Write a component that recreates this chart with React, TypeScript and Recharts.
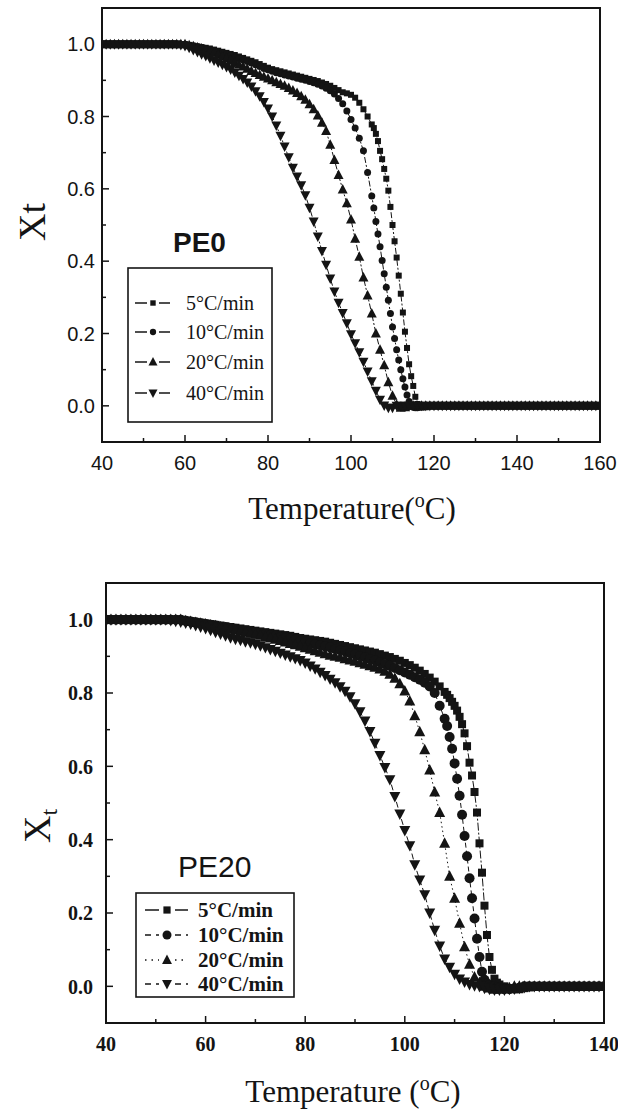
import React from 'react';
import { LineChart, Line, XAxis, YAxis, ReferenceArea, Legend } from 'recharts';

// ---------------- data: PE0 (top panel) ----------------
// temperatures (°C); half-degree readings only where the slow-rate curves fall steeply
const TOP_T = [
  40, 41, 42, 43, 44, 45, 46, 47, 48, 49,
  50, 51, 52, 53, 54, 55, 56, 57, 58, 59,
  60, 61, 62, 63, 64, 65, 66, 67, 68, 69,
  70, 71, 72, 73, 74, 75, 76, 77, 78, 79,
  80, 81, 82, 83, 84, 85, 86, 87, 88, 89,
  90, 91, 92, 93, 94, 95, 96, 97, 98, 99,
  100, 101, 102, 103, 104, 105, 105.5, 106, 106.5, 107, 107.5, 108, 108.5, 109, 109.5,
  110, 110.5, 111, 111.5, 112, 112.5, 113, 113.5, 114, 114.5, 115, 115.5, 116, 116.5, 117, 118, 119,
  120, 121, 122, 123, 124, 125, 126, 127, 128, 129,
  130, 131, 132, 133, 134, 135, 136, 137, 138, 139,
  140, 141, 142, 143, 144, 145, 146, 147, 148, 149,
  150, 151, 152, 153, 154, 155, 156, 157, 158, 159,
  160,
];
const TOP_5 = [
  1, 1, 1, 1, 1, 1, 1, 1, 1, 1,
  1, 1, 1, 1, 1, 1, 1, 1, 1, 1,
  1, 0.998, 0.996, 0.994, 0.992, 0.99, 0.988, 0.985, 0.982, 0.979,
  0.976, 0.973, 0.97, 0.966, 0.962, 0.958, 0.954, 0.95, 0.945, 0.94,
  0.935, 0.931, 0.928, 0.925, 0.922, 0.919, 0.916, 0.913, 0.91, 0.907,
  0.904, 0.901, 0.898, 0.894, 0.89, 0.885, 0.879, 0.873, 0.867, 0.864,
  0.86, 0.852, 0.838, 0.82, 0.8, 0.778, 0.768, 0.752, 0.732, 0.705, 0.682, 0.655, 0.628, 0.595, 0.55,
  0.5, 0.455, 0.41, 0.36, 0.31, 0.258, 0.205, 0.16, 0.115, 0.082, 0.055, 0.025, 0.005, -0.002, -0.005, -0.004, 0,
  0, 0, 0, 0, 0, 0, 0, 0, 0, 0,
  0, 0, 0, 0, 0, 0, 0, 0, 0, 0,
  0, 0, 0, 0, 0, 0, 0, 0, 0, 0,
  0, 0, 0, 0, 0, 0, 0, 0, 0, 0,
  0,
];
const TOP_10 = [
  1, 1, 1, 1, 1, 1, 1, 1, 1, 1,
  1, 1, 1, 1, 1, 1, 1, 1, 1, 1,
  1, 0.997, 0.995, 0.993, 0.99, 0.988, 0.985, 0.982, 0.979, 0.976,
  0.972, 0.968, 0.964, 0.96, 0.956, 0.952, 0.948, 0.943, 0.938, 0.933,
  0.929, 0.925, 0.921, 0.918, 0.915, 0.912, 0.909, 0.906, 0.903, 0.9,
  0.897, 0.893, 0.889, 0.884, 0.878, 0.871, 0.862, 0.85, 0.835, 0.815,
  0.792, 0.768, 0.74, 0.705, 0.645, 0.58, 0.547, 0.51, 0.475, 0.44, 0.402, 0.365, 0.328, 0.292, 0.255,
  0.218, 0.186, 0.155, 0.127, 0.1, 0.075, 0.052, 0.03, 0.012, 0.002, -0.004, -0.005, -0.005, -0.003, 0, 0, 0,
  0, 0, 0, 0, 0, 0, 0, 0, 0, 0,
  0, 0, 0, 0, 0, 0, 0, 0, 0, 0,
  0, 0, 0, 0, 0, 0, 0, 0, 0, 0,
  0, 0, 0, 0, 0, 0, 0, 0, 0, 0,
  0,
];
const TOP_20 = [
  1, 1, 1, 1, 1, 1, 1, 1, 1, 1,
  1, 1, 1, 1, 1, 1, 1, 1, 1, 1,
  1, 0.997, 0.994, 0.991, 0.988, 0.984, 0.98, 0.976, 0.971, 0.966,
  0.961, 0.956, 0.95, 0.944, 0.938, 0.932, 0.926, 0.92, 0.915, 0.91,
  0.905, 0.9, 0.895, 0.89, 0.885, 0.879, 0.872, 0.865, 0.856, 0.846,
  0.834, 0.82, 0.803, 0.783, 0.76, 0.722, 0.68, 0.638, 0.598, 0.56,
  0.515, 0.462, 0.412, 0.355, 0.305, 0.255, null, 0.2, null, 0.155, null, 0.112, null, 0.065, null,
  0.028, null, 0.003, null, -0.005, null, -0.004, null, 0, null, 0, null, 0, null, 0, 0, 0,
  0, 0, 0, 0, 0, 0, 0, 0, 0, 0,
  0, 0, 0, 0, 0, 0, 0, 0, 0, 0,
  0, 0, 0, 0, 0, 0, 0, 0, 0, 0,
  0, 0, 0, 0, 0, 0, 0, 0, 0, 0,
  0,
];
const TOP_40 = [
  1, 1, 1, 1, 1, 1, 1, 1, 1, 1,
  1, 1, 1, 1, 1, 1, 1, 1, 1, 0.998,
  0.995, 0.99, 0.984, 0.978, 0.972, 0.967, 0.961, 0.955, 0.949, 0.943,
  0.937, 0.93, 0.922, 0.913, 0.904, 0.894, 0.883, 0.87, 0.856, 0.84,
  0.822, 0.8, 0.775, 0.747, 0.717, 0.687, 0.658, 0.634, 0.61, 0.582,
  0.548, 0.51, 0.468, 0.428, 0.39, 0.352, 0.316, 0.285, 0.257, 0.228,
  0.198, 0.173, 0.148, 0.122, 0.095, 0.068, null, 0.042, null, 0.017, null, 0.001, null, -0.005, null,
  -0.005, null, 0, null, 0, null, 0, null, 0, null, 0, null, 0, null, 0, 0, 0,
  0, 0, 0, 0, 0, 0, 0, 0, 0, 0,
  0, 0, 0, 0, 0, 0, 0, 0, 0, 0,
  0, 0, 0, 0, 0, 0, 0, 0, 0, 0,
  0, 0, 0, 0, 0, 0, 0, 0, 0, 0,
  0,
];

// ---------------- data: PE20 (bottom panel) ----------------
const BOT_T = [
  40, 41, 42, 43, 44, 45, 46, 47, 48, 49,
  50, 51, 52, 53, 54, 55, 56, 57, 58, 59,
  60, 61, 62, 63, 64, 65, 66, 67, 68, 69,
  70, 71, 72, 73, 74, 75, 76, 77, 78, 79,
  80, 81, 82, 83, 84, 85, 86, 87, 88, 89,
  90, 91, 92, 93, 94, 95, 96, 97, 98, 99,
  100, 101, 102, 103, 104, 105, 106, 107, 108, 108.5, 109, 109.5,
  110, 110.5, 111, 111.5, 112, 112.5, 113, 113.5, 114, 114.5, 115, 115.5, 116, 116.5, 117, 117.5, 118, 118.5, 119,
  120, 121, 122, 123, 124, 125, 126, 127, 128, 129,
  130, 131, 132, 133, 134, 135, 136, 137, 138, 139,
  140,
];
const BOT_5 = [
  1, 1, 1, 1, 1, 1, 1, 1, 1, 1,
  1, 1, 1, 1, 1, 1, 0.998, 0.996, 0.994, 0.992,
  0.99, 0.988, 0.986, 0.984, 0.982, 0.98, 0.978, 0.976, 0.974, 0.972,
  0.97, 0.968, 0.966, 0.964, 0.962, 0.96, 0.958, 0.956, 0.953, 0.95,
  0.948, 0.946, 0.944, 0.942, 0.94, 0.937, 0.934, 0.931, 0.928, 0.925,
  0.922, 0.919, 0.916, 0.913, 0.91, 0.906, 0.902, 0.898, 0.893, 0.888,
  0.882, 0.876, 0.869, 0.861, 0.852, 0.842, 0.831, 0.818, 0.803, 0.795, 0.786, 0.776,
  0.765, 0.752, 0.735, 0.715, 0.69, 0.655, 0.61, 0.575, 0.53, 0.474, 0.39, 0.31, 0.22, 0.14, 0.08, 0.045, 0.021, 0.01, 0.005,
  0, -0.005, -0.008, -0.008, -0.005, -0.003, 0, 0, 0, 0,
  0, 0, 0, 0, 0, 0, 0, 0, 0, 0,
  0,
];
const BOT_10 = [
  1, 1, 1, 1, 1, 1, 1, 1, 1, 1,
  1, 1, 1, 1, 1, 1, 0.997, 0.995, 0.993, 0.99,
  0.988, 0.986, 0.984, 0.981, 0.979, 0.977, 0.975, 0.972, 0.97, 0.968,
  0.966, 0.963, 0.961, 0.958, 0.956, 0.953, 0.95, 0.948, 0.945, 0.942,
  0.939, 0.936, 0.933, 0.93, 0.927, 0.924, 0.92, 0.917, 0.913, 0.909,
  0.905, 0.901, 0.897, 0.893, 0.889, 0.884, 0.879, 0.874, 0.868, 0.862,
  0.856, 0.85, 0.843, 0.836, 0.828, 0.818, 0.8, 0.765, 0.73, 0.71, 0.68, 0.648,
  0.608, 0.566, 0.52, 0.468, 0.41, 0.355, 0.295, 0.24, 0.185, 0.13, 0.08, 0.04, 0.018, 0.008, 0.003, 0.001, 0, -0.003, -0.005,
  -0.008, -0.008, -0.006, -0.004, 0, 0, 0, 0, 0, 0,
  0, 0, 0, 0, 0, 0, 0, 0, 0, 0,
  0,
];
const BOT_20 = [
  1, 1, 1, 1, 1, 1, 1, 1, 1, 1,
  1, 1, 1, 1, 1, 1, 0.997, 0.995, 0.992, 0.99,
  0.988, 0.985, 0.983, 0.98, 0.978, 0.975, 0.972, 0.969, 0.966, 0.963,
  0.96, 0.957, 0.953, 0.95, 0.946, 0.943, 0.939, 0.935, 0.931, 0.927,
  0.923, 0.919, 0.915, 0.911, 0.907, 0.903, 0.9, 0.897, 0.893, 0.89,
  0.886, 0.882, 0.878, 0.874, 0.87, 0.865, 0.859, 0.851, 0.84, 0.825,
  0.805, 0.778, 0.738, 0.694, 0.645, 0.59, 0.53, 0.474, 0.39, null, 0.3, null,
  0.24, null, 0.172, null, 0.108, null, 0.06, null, 0.025, null, 0.01, null, 0, null, -0.005, null, -0.008, null, -0.008,
  -0.006, -0.004, 0, 0, 0, 0, 0, 0, 0, 0,
  0, 0, 0, 0, 0, 0, 0, 0, 0, 0,
  0,
];
const BOT_40 = [
  1, 1, 1, 1, 1, 1, 1, 1, 1, 1,
  1, 1, 1, 0.998, 0.996, 0.994, 0.991, 0.988, 0.984, 0.98,
  0.976, 0.971, 0.966, 0.961, 0.956, 0.951, 0.947, 0.944, 0.94, 0.937,
  0.933, 0.929, 0.924, 0.919, 0.914, 0.909, 0.904, 0.899, 0.894, 0.889,
  0.882, 0.874, 0.866, 0.857, 0.848, 0.838, 0.828, 0.817, 0.805, 0.79,
  0.771, 0.749, 0.724, 0.695, 0.663, 0.63, 0.597, 0.564, 0.518, 0.47,
  0.425, 0.384, 0.332, 0.29, 0.25, 0.2, 0.153, 0.11, 0.075, null, 0.052, null,
  0.033, null, 0.02, null, 0.012, null, 0.005, null, 0.002, null, 0, null, -0.005, null, -0.008, null, -0.01, null, -0.01,
  -0.01, -0.008, -0.007, -0.005, -0.003, 0, 0, 0, 0, 0,
  0, 0, 0, 0, 0, 0, 0, 0, 0, 0,
  0,
];

const SERIES_NAMES = ['5°C/min', '10°C/min', '20°C/min', '40°C/min'];
const TOP_X_TICKS = [40, 50, 60, 70, 80, 90, 100, 110, 120, 130, 140, 150, 160];
const BOT_X_TICKS = [40, 50, 60, 70, 80, 90, 100, 110, 120, 130, 140];
const Y_TICKS = [0, 0.1, 0.2, 0.3, 0.4, 0.5, 0.6, 0.7, 0.8, 0.9, 1.0];

const INK = '#141414';

type Kind = 'square' | 'circle' | 'up' | 'down';
interface SeriesCfg {
  key: string;
  name: string;
  kind: Kind;
  size: number;
  dash: string;
  legendDash?: string;
}
interface FontCfg {
  family: string;
  weight: string | number;
  size: number;
  cap: number;
}

function MarkerShape({ kind, cx, cy, size }: { kind: Kind; cx: number; cy: number; size: number }) {
  const h = size / 2;
  if (kind === 'square') return <rect x={cx - h} y={cy - h} width={size} height={size} fill={INK} />;
  if (kind === 'circle') return <circle cx={cx} cy={cy} r={h} fill={INK} />;
  if (kind === 'up')
    return <polygon points={`${cx},${cy - h * 1.1} ${cx + h},${cy + h * 0.8} ${cx - h},${cy + h * 0.8}`} fill={INK} />;
  return <polygon points={`${cx},${cy + h * 1.1} ${cx + h},${cy - h * 0.8} ${cx - h},${cy - h * 0.8}`} fill={INK} />;
}

function makeDot(s: SeriesCfg) {
  return (p: any) => {
    const k = `${s.key}-${p.index}`;
    if (p.value == null || p.cx == null || p.cy == null || Number.isNaN(p.cx) || Number.isNaN(p.cy)) return <g key={k} />;
    return (
      <g key={k}>
        <MarkerShape kind={s.kind} cx={p.cx} cy={p.cy} size={s.size} />
      </g>
    );
  };
}

function makeXTick(margin: number, font: FontCfg) {
  return (p: any) => {
    const v = Number(p.payload?.value);
    const axisY = p.y - margin;
    const major = Math.round(v) % 20 === 0;
    return (
      <g>
        <line x1={p.x} x2={p.x} y1={axisY} y2={axisY - (major ? 7 : 4)} stroke={INK} strokeWidth={1.5} />
        {major ? (
          <text
            x={p.x}
            y={p.y + font.size * font.cap}
            textAnchor="middle"
            fontFamily={font.family}
            fontWeight={font.weight}
            fontSize={font.size}
            fill={INK}
          >
            {String(v)}
          </text>
        ) : null}
      </g>
    );
  };
}

function makeYTick(margin: number, font: FontCfg) {
  return (p: any) => {
    const v = Number(p.payload?.value);
    const axisX = p.x + margin;
    const major = Math.round(v * 10) % 2 === 0;
    return (
      <g>
        <line x1={axisX} x2={axisX + (major ? 7 : 4)} y1={p.y} y2={p.y} stroke={INK} strokeWidth={1.5} />
        {major ? (
          <text
            x={p.x}
            y={p.y + font.size * 0.36}
            textAnchor="end"
            fontFamily={font.family}
            fontWeight={font.weight}
            fontSize={font.size}
            fill={INK}
          >
            {v.toFixed(1)}
          </text>
        ) : null}
      </g>
    );
  };
}

interface LegendCfg {
  left: number;
  top: number;
  w: number;
  h: number;
  rows: number[];
  s0: number;
  s1: number;
  mx: number;
  gap: number;
  textX: number;
  font: FontCfg;
  markerScale: number;
}

function makeLegend(cfg: LegendCfg, series: SeriesCfg[]) {
  return () => (
    <svg width={cfg.w} height={cfg.h} style={{ display: 'block' }}>
      <rect x={1} y={1} width={cfg.w - 2} height={cfg.h - 2} fill="#fff" stroke={INK} strokeWidth={1.6} />
      {series.map((s, i) => {
        const y = cfg.rows[i];
        return (
          <g key={s.key}>
            <line x1={cfg.s0} x2={cfg.mx - cfg.gap} y1={y} y2={y} stroke={INK} strokeWidth={1.5} strokeDasharray={s.legendDash} />
            <line x1={cfg.mx + cfg.gap} x2={cfg.s1} y1={y} y2={y} stroke={INK} strokeWidth={1.5} strokeDasharray={s.legendDash} />
            <MarkerShape kind={s.kind} cx={cfg.mx} cy={y} size={s.size * cfg.markerScale} />
            <text
              x={cfg.textX}
              y={y + cfg.font.size * 0.34}
              fontFamily={cfg.font.family}
              fontWeight={cfg.font.weight}
              fontSize={cfg.font.size}
              fill={INK}
            >
              {s.name}
            </text>
          </g>
        );
      })}
    </svg>
  );
}

interface PanelProps {
  top: number;
  height: number;
  margin: { top: number; right: number; bottom: number; left: number };
  data: any[];
  xDomain: [number, number];
  xTicks: number[];
  xTickMargin: number;
  yTickMargin: number;
  tickFont: FontCfg;
  series: SeriesCfg[];
  legend: LegendCfg;
  overlay: React.ReactNode;
}

function Panel(props: PanelProps) {
  const { top, height, margin, data, xDomain, xTicks, xTickMargin, yTickMargin, tickFont, series, legend, overlay } = props;
  return (
    <div style={{ position: 'absolute', left: 0, top, width: 618, height }}>
      <LineChart width={618} height={height} data={data} margin={margin}>
        <XAxis
          dataKey="T"
          type="number"
          domain={xDomain}
          ticks={xTicks}
          interval={0}
          allowDataOverflow
          tickSize={0}
          tickMargin={xTickMargin}
          tickLine={false}
          axisLine={false}
          height={40}
          tick={makeXTick(xTickMargin, tickFont)}
        />
        <YAxis
          type="number"
          domain={[-0.1, 1.1]}
          ticks={Y_TICKS}
          interval={0}
          allowDataOverflow
          tickSize={0}
          tickMargin={yTickMargin}
          tickLine={false}
          axisLine={false}
          width={60}
          tick={makeYTick(yTickMargin, tickFont)}
        />
        <ReferenceArea
          x1={xDomain[0]}
          x2={xDomain[1]}
          y1={-0.1}
          y2={1.1}
          fill="none"
          fillOpacity={0}
          stroke={INK}
          strokeWidth={2}
          ifOverflow="visible"
        />
        {series.map((s) => (
          <Line
            key={s.key}
            dataKey={s.key}
            name={s.name}
            type="linear"
            stroke={INK}
            strokeWidth={1}
            strokeDasharray={s.dash}
            connectNulls
            dot={makeDot(s)}
            activeDot={false}
            isAnimationActive={false}
          />
        ))}
        <Legend
          layout="vertical"
          align="center"
          verticalAlign="middle"
          wrapperStyle={{ left: legend.left, top: legend.top, width: legend.w, height: legend.h }}
          content={makeLegend(legend, series)}
        />
      </LineChart>
      <svg
        width={618}
        height={height}
        style={{ position: 'absolute', left: 0, top: 0, pointerEvents: 'none' }}
      >
        {overlay}
      </svg>
    </div>
  );
}

const topRows = TOP_T.map((t, i) => ({ T: t, r5: TOP_5[i], r10: TOP_10[i], r20: TOP_20[i], r40: TOP_40[i] }));
const botRows = BOT_T.map((t, i) => ({ T: t, r5: BOT_5[i], r10: BOT_10[i], r20: BOT_20[i], r40: BOT_40[i] }));

const TOP_SERIES: SeriesCfg[] = [
  { key: 'r5', name: SERIES_NAMES[0], kind: 'square', size: 6, dash: '6 2 2 2' },
  { key: 'r10', name: SERIES_NAMES[1], kind: 'circle', size: 7, dash: '6 2 2 2' },
  { key: 'r20', name: SERIES_NAMES[2], kind: 'up', size: 10, dash: '6 2 2 2' },
  { key: 'r40', name: SERIES_NAMES[3], kind: 'down', size: 10, dash: '6 2 2 2' },
];
const BOT_SERIES: SeriesCfg[] = [
  { key: 'r5', name: SERIES_NAMES[0], kind: 'square', size: 8, dash: '8 2 2 2' },
  { key: 'r10', name: SERIES_NAMES[1], kind: 'circle', size: 10, dash: '5 3', legendDash: '6 5' },
  { key: 'r20', name: SERIES_NAMES[2], kind: 'up', size: 11, dash: '1.5 3', legendDash: '1.5 5' },
  { key: 'r40', name: SERIES_NAMES[3], kind: 'down', size: 11, dash: '6 3', legendDash: '6 5' },
];

const SANS: FontCfg = { family: '"Liberation Sans", Arial, sans-serif', weight: 'normal', size: 20, cap: 0.72 };
const SERIF_BOLD: FontCfg = { family: '"Liberation Serif", "Times New Roman", serif', weight: 'bold', size: 20, cap: 0.68 };
const SERIF = '"Liberation Serif", "Times New Roman", serif';

export default function App() {
  return (
    <div style={{ position: 'absolute', left: 0, top: 0, width: 618, height: 1111, background: '#fff', overflow: 'hidden' }}>
      <Panel
        top={0}
        height={560}
        margin={{ top: 8, right: 18, bottom: 78, left: 42 }}
        data={topRows}
        xDomain={[40, 160]}
        xTicks={TOP_X_TICKS}
        xTickMargin={14}
        yTickMargin={7}
        tickFont={SANS}
        series={TOP_SERIES}
        legend={{
          left: 127, top: 267, w: 146, h: 156, rows: [36, 65, 95, 126],
          s0: 8, s1: 43, mx: 26, gap: 6, textX: 59,
          font: { family: SERIF, weight: 'normal', size: 20, cap: 0.66 },
          markerScale: 0.9,
        }}
        overlay={
          <g fill={INK}>
            <text x={45} y={222} transform="rotate(-90 45 222)" textAnchor="middle" fontFamily={SERIF} fontSize={38}>
              Xt
            </text>
            <text x={352} y={519} textAnchor="middle" fontFamily={SERIF} fontSize={31}>
              Temperature(
              <tspan fontSize={20} dy={-12}>o</tspan>
              <tspan dy={12}>C)</tspan>
            </text>
            <text x={173} y={252} fontFamily='"Liberation Sans", Arial, sans-serif' fontWeight="bold" fontSize={28}>
              PE0
            </text>
          </g>
        }
      />
      <Panel
        top={560}
        height={551}
        margin={{ top: 23, right: 14, bottom: 48, left: 46 }}
        data={botRows}
        xDomain={[40, 140]}
        xTicks={BOT_X_TICKS}
        xTickMargin={14}
        yTickMargin={13}
        tickFont={SERIF_BOLD}
        series={BOT_SERIES}
        legend={{
          left: 135, top: 332, w: 160, h: 106, rows: [18, 43, 68, 92],
          s0: 10, s1: 53, mx: 32, gap: 8, textX: 63,
          font: { family: SERIF, weight: 'bold', size: 21, cap: 0.66 },
          markerScale: 0.9,
        }}
        overlay={
          <g fill={INK}>
            <text x={50} y={266} transform="rotate(-90 50 266)" textAnchor="middle" fontFamily={SERIF} fontSize={38}>
              X<tspan fontSize={24} dy={7}>t</tspan>
            </text>
            <text x={353} y={542} textAnchor="middle" fontFamily={SERIF} fontSize={31}>
              Temperature (
              <tspan fontSize={20} dy={-12}>o</tspan>
              <tspan dy={12}>C)</tspan>
            </text>
            <text x={178} y={317} fontFamily='"Liberation Sans", Arial, sans-serif' fontSize={30}>
              PE20
            </text>
          </g>
        }
      />
    </div>
  );
}
